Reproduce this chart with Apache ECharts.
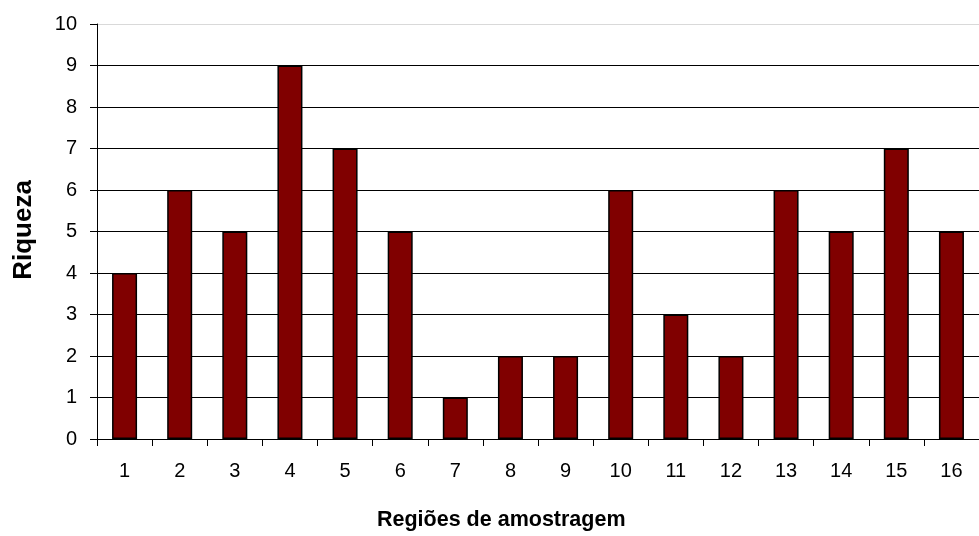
<!DOCTYPE html>
<html>
<head>
<meta charset="utf-8">
<script src="https://cdn.jsdelivr.net/npm/echarts@6/dist/echarts.min.js"></script>
<style>
	html,body{margin:0;padding:0;background:#fff;overflow:hidden;}
	#chart{width:979px;height:536px;}
</style>
</head>
<body>
<div id="chart"></div>
<script>
	// regiões e riqueza
	var regioes = ['1','2','3','4','5','6','7','8','9','10','11','12','13','14','15','16'];
	var riqueza = [4, 6, 5, 9, 7, 5, 1, 2, 2, 6, 3, 2, 6, 5, 7, 5];
	var yTicks = [0, 1, 2, 3, 4, 5, 6, 7, 8, 9, 10];

	var font = 'Arial, "Liberation Sans", sans-serif';
	var chart = echarts.init(document.getElementById('chart'));

	// linhas de grade: pretas, a do topo cinza
	var gridColors = yTicks.map(function(v){ return v === 10 ? '#d9d9d9' : '#000'; });

	chart.setOption({
		animation: false,
		backgroundColor: '#fff',
		// a área do gráfico passa da borda direita (cortada como no original)
		grid: { left: 97, top: 24, width: 896, height: 415, containLabel: false },
		xAxis: {
			type: 'category',
			data: regioes,
			axisLine: { lineStyle: { color: '#000', width: 1 } },
			axisTick: { show: true, length: 7, lineStyle: { color: '#000' } },
			axisLabel: { color: '#000', fontSize: 20, fontFamily: font, margin: 22 },
			splitLine: { show: false }
		},
		yAxis: {
			type: 'value',
			min: 0,
			max: 10,
			interval: 1,
			axisLine: { show: true, lineStyle: { color: '#000', width: 1 } },
			axisTick: { show: true, length: 7, lineStyle: { color: '#000' } },
			axisLabel: { color: '#000', fontSize: 20, fontFamily: font, margin: 20 },
			splitLine: { show: true, lineStyle: { color: gridColors, width: 1 } }
		},
		graphic: [
			{
				type: 'text',
				left: 377,
				top: 509,
				style: { text: 'Regiões de amostragem', fill: '#000', font: 'bold 21.5px ' + font }
			},
			{
				type: 'text',
				x: 24,
				y: 230,
				rotation: Math.PI / 2,
				style: { text: 'Riqueza', fill: '#000', font: 'bold 26px ' + font, align: 'center', verticalAlign: 'middle' }
			}
		],
		series: [{
			type: 'bar',
			data: riqueza,
			barWidth: 25,
			itemStyle: { color: '#800000', borderColor: '#000', borderWidth: 1.5 }
		}]
	});
</script>
</body>
</html>
